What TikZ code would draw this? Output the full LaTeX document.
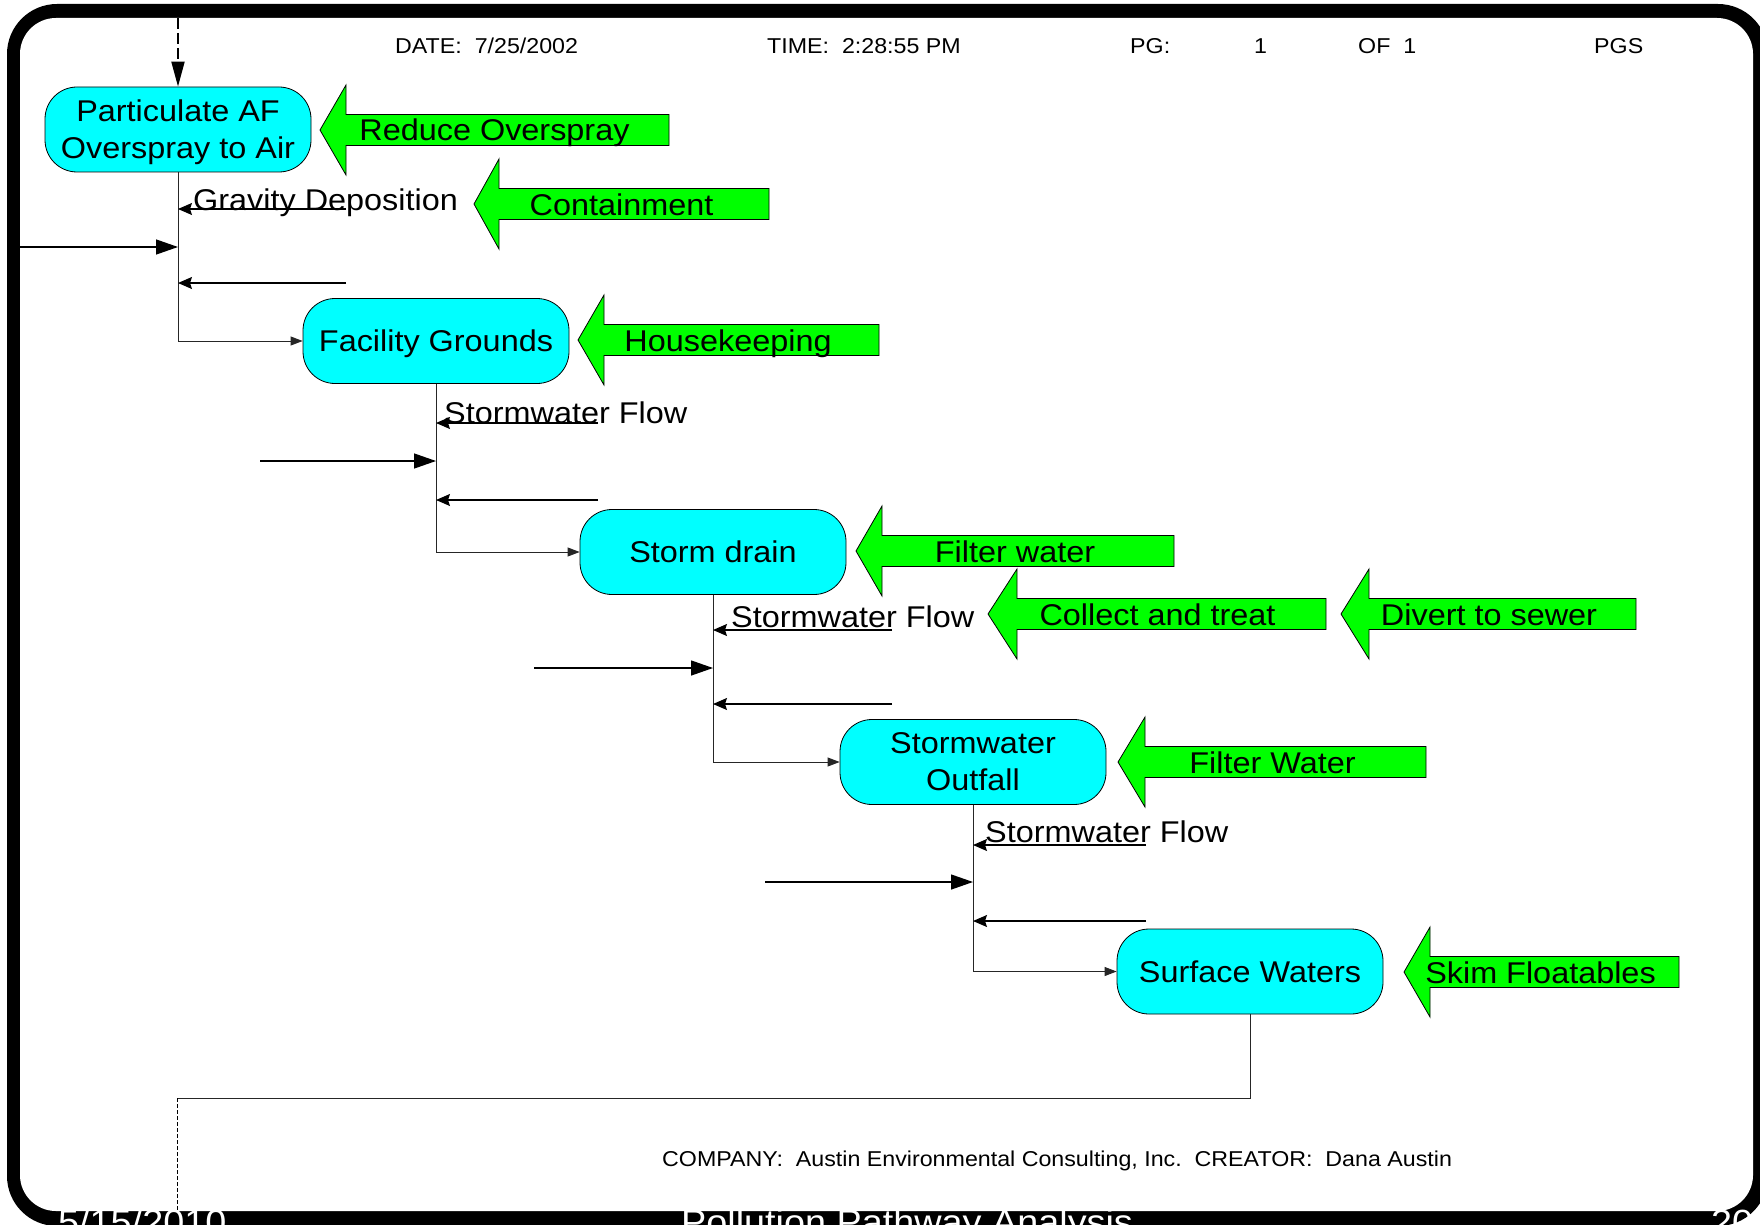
\documentclass[tikz,border=0pt]{standalone}
\usepackage{fontspec}
\setmainfont{Liberation Sans}[FakeStretch=1.08]
\usetikzlibrary{arrows.meta}
\definecolor{cyanfill}{RGB}{0,255,255}
\definecolor{greenfill}{RGB}{0,255,0}
\newcommand\garrow[7]{%
  \draw[gshape] (#2,#3) -- (#4,#3-45) -- (#4,#3-15.5) -- (#5,#3-15.5) -- (#5,#3+15.5) -- (#4,#3+15.5) -- (#4,#3+45) -- cycle;
  \node[gtext] (#1) at (#7,#3+11) {#6};
}
\begin{document}
\begin{tikzpicture}[x=1pt,y=-1pt,
  proc/.style={draw=black, line width=0.8pt, fill=cyanfill, rounded corners=32pt,
    minimum width=266pt, minimum height=85pt, align=center, inner sep=0pt,
    font=\fontsize{30}{37}\selectfont},
  procone/.style={proc, text height=21.5pt, text depth=0pt},
  gshape/.style={draw=black, line width=0.8pt, fill=greenfill},
  gtext/.style={anchor=base, inner sep=0pt, font=\fontsize{30}{36}\selectfont},
  lbl/.style={anchor=base west, inner sep=0pt, font=\fontsize{30}{36}\selectfont},
  hdr/.style={anchor=base west, inner sep=0pt, font=\fontsize{21.5}{26}\selectfont},
  foot/.style={anchor=base west, inner sep=0pt, text=white, font=\fontsize{35}{40}\selectfont},
  flow/.style={draw=black!85, line width=0.9pt},
  into/.style={flow, -{Triangle[length=12pt,width=9pt]}},
  back/.style={draw=black, line width=1.3pt, -{Stealth[length=14pt,width=12pt,inset=2pt]}},
  feed/.style={draw=black, line width=1.3pt, -{Triangle[length=22pt,width=15pt]}},
  topdash/.style={draw=black, line width=2pt, dash pattern=on 11pt off 4pt, -{Triangle[length=25pt,width=13pt]}},
  retdash/.style={draw=black, line width=0.8pt, dash pattern=on 4pt off 2pt}
]
\useasboundingbox (0,0) rectangle (1760,1225);
\clip (0,0) rectangle (1760,1225);
\fill[white] (0,0) rectangle (1760,1225);
% frame
\fill[black, rounded corners=50pt] (7,4) rectangle (1768,1226);
\fill[white, rounded corners=36pt] (20,18) rectangle (1753,1211);

% header
\node[hdr] (hdate) at (395,54) {DATE:\ \ 7/25/2002};
\node[hdr] (htime) at (767,54) {TIME:\ \ 2:28:55 PM};
\node[hdr] (hpg) at (1130,54) {PG:};
\node[hdr] (hpgn) at (1254,54) {1};
\node[hdr] (hof) at (1358,54) {OF\ \ 1};
\node[hdr] (hpgs) at (1594,54) {PGS};
\node[hdr] (hcomp) at (662,1166) {COMPANY:\ \ Austin Environmental Consulting, Inc.\ \ CREATOR:\ \ Dana Austin};

% process nodes
\node[proc, text depth=0pt] (n1) at (178,129.5) {Particulate AF\\Overspray to Air};
\node[procone] (fg) at (436,341) {Facility Grounds};
\node[procone] (sd) at (713,552) {Storm drain};
\node[proc] (so) at (973,762) {Stormwater\\Outfall};
\node[procone] (sw) at (1250,971.5) {Surface Waters};

% labels
\node[lbl] (l1) at (193,210) {Gravity Deposition};
\node[lbl] (l2) at (444,423) {Stormwater Flow};
\node[lbl] (l3) at (731,627) {Stormwater Flow};
\node[lbl] (l4) at (985,842) {Stormwater Flow};

% coordinates
\coordinate (topin) at (178,18);
\coordinate (g1) at (346,209);
\coordinate (g2) at (346,283);
\coordinate (h1) at (598,423);
\coordinate (h2) at (598,500);
\coordinate (i1) at (892,630);
\coordinate (i2) at (892,704);
\coordinate (k1) at (1146,845);
\coordinate (k2) at (1146,921);
\coordinate (f1) at (20,247);
\coordinate (f2) at (260,461);
\coordinate (f3) at (534,668);
\coordinate (f4) at (765,882);
\coordinate (ret) at (177,1098);
\coordinate (retend) at (177,1211);

% connectors
\draw[topdash] (topin) -- (n1.north);
\draw[into] (n1.south) |- (fg.west);
\draw[into] (fg.south) |- (sd.west);
\draw[into] (sd.south) |- (so.west);
\draw[into] (so.south) |- (sw.west);
\draw[flow] (sw.south) |- (ret);
\draw[retdash] (ret) -- (retend);

\draw[back] (g1) -- (g1 -| n1.south);
\draw[back] (g2) -- (g2 -| n1.south);
\draw[back] (h1) -- (h1 -| fg.south);
\draw[back] (h2) -- (h2 -| fg.south);
\draw[back] (i1) -- (i1 -| sd.south);
\draw[back] (i2) -- (i2 -| sd.south);
\draw[back] (k1) -- (k1 -| so.south);
\draw[back] (k2) -- (k2 -| so.south);

\draw[feed] (f1) -- (f1 -| n1.south);
\draw[feed] (f2) -- (f2 -| fg.south);
\draw[feed] (f3) -- (f3 -| sd.south);
\draw[feed] (f4) -- (f4 -| so.south);

% green arrows
\garrow{ga1}{320}{130}{346}{669}{Reduce Overspray}{494.5}
\garrow{ga2}{474}{204}{499}{769}{Containment}{621.5}
\garrow{ga3}{578}{340}{604}{879}{Housekeeping}{728}
\garrow{ga4}{856}{551}{882}{1174}{Filter water}{1015}
\garrow{ga5}{988}{614}{1017}{1326}{Collect and treat}{1157.5}
\garrow{ga6}{1341}{614}{1369}{1636}{Divert to sewer}{1489}
\garrow{ga7}{1118}{762}{1145}{1426}{Filter Water}{1272.5}
\garrow{ga8}{1404}{972}{1430}{1679}{Skim Floatables}{1540.5}

% footer (in black band, cut off as in the original)
\node[foot] (fdate) at (58,1234) {5/15/2010};
\node[foot] (ftitle) at (681,1234) {Pollution Pathway Analysis};
\node[foot] (fnum) at (1711,1234) {20};
\end{tikzpicture}
\end{document}
